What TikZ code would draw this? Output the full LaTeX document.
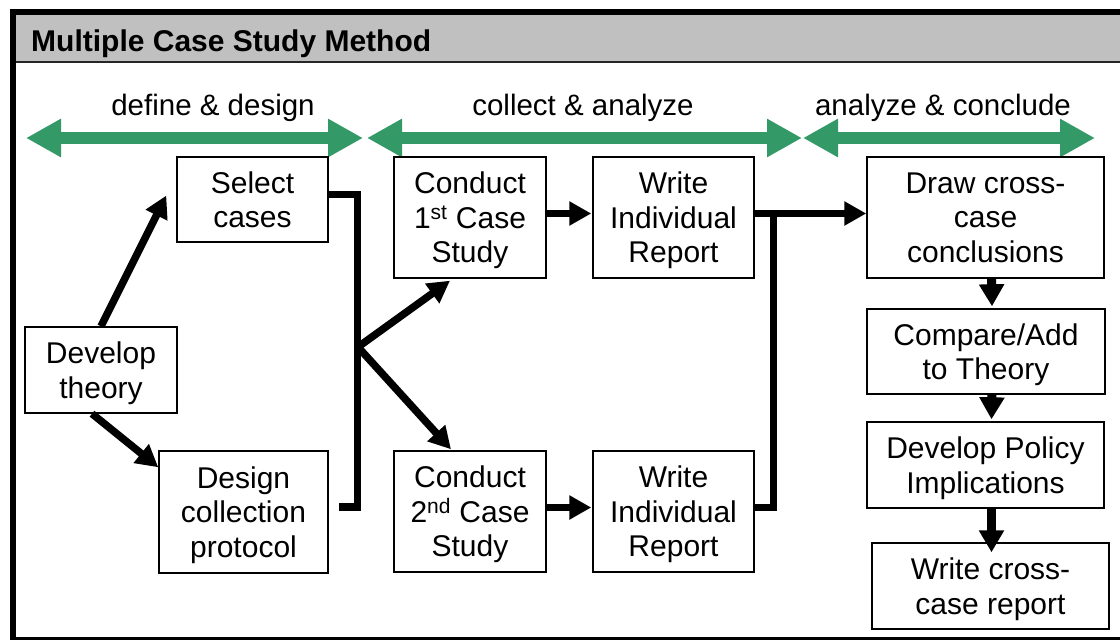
\documentclass[tikz,border=0pt]{standalone}
\usepackage{fontspec}
\setmainfont{Liberation Sans}
\usetikzlibrary{arrows.meta,calc}
\definecolor{phasegreen}{HTML}{339966}
\definecolor{headergray}{HTML}{C0C0C0}
\begin{document}
\begin{tikzpicture}[x=1pt,y=-1pt,
  stepbox/.style={draw, line width=1.4pt, inner sep=0pt, align=center,
    text depth=0pt, font=\fontsize{30}{34.5}\selectfont},
  phaselabel/.style={anchor=base, inner sep=0pt, font=\fontsize{29.5}{34}\selectfont},
  phasearrow/.style={draw=phasegreen, line width=12.5pt,
    {Triangle[length=35pt,width=36pt]}-{Triangle[length=35pt,width=36pt]}},
  conn/.style={draw, line width=7.5pt, line join=miter},
  flow/.style={conn, -{Triangle[length=22pt,width=23pt]}},
  downflow/.style={draw, line width=9pt, -{Triangle[length=22pt,width=24pt]}}
]
\useasboundingbox (0,0) rectangle (1120,640);
\clip (0,0) rectangle (1120,640);

% frame and title bar
\fill[headergray] (15,15) rectangle (1130,62);
\draw[line width=1.5pt, black!85] (15,62) -- (1130,62);
\draw[line width=6pt] (12.5,12) rectangle (1135,639.5);
\node[anchor=base west, inner sep=0pt, font=\bfseries\fontsize{30}{36}\selectfont]
  (title) at (31,51) {Multiple Case Study Method};

% phase arrows and their labels
\coordinate (p1a) at (26,138);   \coordinate (p1b) at (363,138);
\coordinate (p2a) at (367,138);  \coordinate (p2b) at (802,138);
\coordinate (p3a) at (803,138);  \coordinate (p3b) at (1095,138);
\draw[phasearrow] (p1a) -- (p1b);
\draw[phasearrow] (p2a) -- (p2b);
\draw[phasearrow] (p3a) -- (p3b);
\node[phaselabel] (lab1) at (213,115) {define \& design};
\node[phaselabel] (lab2) at (583,115) {collect \& analyze};
\node[phaselabel] (lab3) at (943,115) {analyze \& conclude};

% process steps
\node[stepbox, minimum width=151pt, minimum height=85pt]  (sel) at (252.5,199.5) {Select\\cases};
\node[stepbox, minimum width=152pt, minimum height=86pt]  (dev) at (101,370) {Develop\\theory};
\node[stepbox, minimum width=169pt, minimum height=122pt] (des) at (243.5,512) {Design\\collection\\protocol};
\node[stepbox, minimum width=152pt, minimum height=121pt] (c1)  at (470,217.5) {Conduct\\1\textsuperscript{st} Case\\Study};
\node[stepbox, minimum width=161pt, minimum height=121pt] (w1)  at (673.5,217.5) {Write\\Individual\\Report};
\node[stepbox, minimum width=152pt, minimum height=121pt] (c2)  at (470,511.5) {Conduct\\2\textsuperscript{nd} Case\\Study};
\node[stepbox, minimum width=161pt, minimum height=121pt] (w2)  at (673.5,511.5) {Write\\Individual\\Report};
\node[stepbox, minimum width=237pt, minimum height=121pt] (dcc) at (985.5,217.5) {Draw cross-\\case\\conclusions};
\node[stepbox, minimum width=238pt, minimum height=85pt]  (cmp) at (986,351.5) {Compare/Add\\to Theory};
\node[stepbox, minimum width=237pt, minimum height=86pt]  (pol) at (985.5,465) {Develop Policy\\Implications};
\node[stepbox, minimum width=237pt, minimum height=86pt]  (wcr) at (990.5,586) {Write cross-\\case report};

% define & design
\draw[flow] (dev.north) -- ($(sel.west)+(-10,-4)$);
\draw[flow] ($(dev.south)+(-9,0)$) -- ($(des.north west)+(0,17)$);

% bracket joining the design steps, then the split to the cases
\coordinate (split) at (358,347);
\draw[conn] ($(sel.east)+(0,-5)$) -| ($(des.east)+(29,-5)$) -- ($(des.east)+(10,-5)$);
\draw[flow] (split) -- ($(c1.south)+(-20,2)$);
\draw[flow] (split) -- ($(c2.north)+(-19,-1)$);

% collect & analyze
\draw[flow] ($(c1.east)+(0,-4)$) -- ($(w1.west)+(-1,-4)$);
\draw[flow] ($(c2.east)+(0,-4)$) -- ($(w2.west)+(-1,-4)$);
\draw[flow] ($(w1.east)+(0,-4)$) -- ($(dcc.west)+(0,-4)$);
\draw[conn] ($(w2.east)+(0,-4)$) -| ($(w1.east)+(19,-4)$);

% analyze & conclude
\draw[downflow] ($(dcc.south)+(6,0)$) -- ($(cmp.north)+(6,-2)$);
\draw[downflow] ($(cmp.south)+(6,0)$) -- ($(pol.north)+(6,-2)$);
\draw[downflow] ($(pol.south)+(6,0)$) -- ($(wcr.north)+(1,10)$);
\end{tikzpicture}
\end{document}
